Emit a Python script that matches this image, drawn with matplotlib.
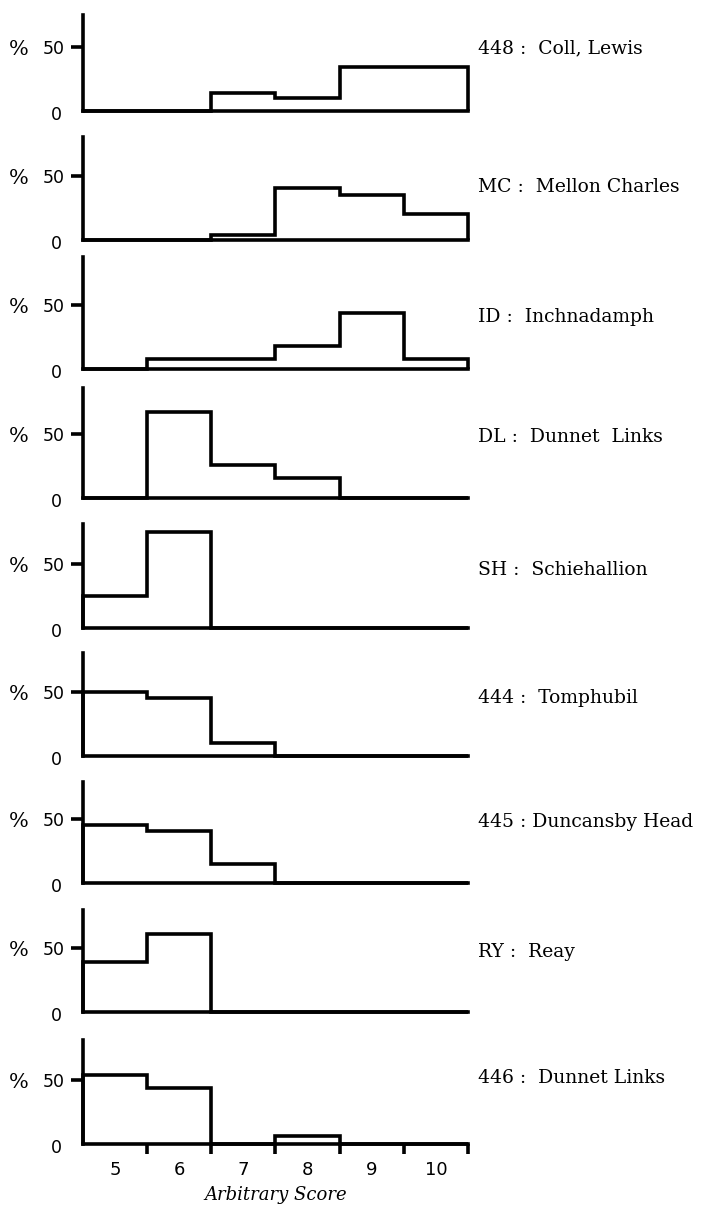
import numpy as np
import matplotlib
matplotlib.use('Agg')
import matplotlib.pyplot as plt
from matplotlib.transforms import blended_transform_factory

# score classes along the bottom
scores = [5, 6, 7, 8, 9, 10]

# site labels, top to bottom
sites = ["448 :  Coll, Lewis", "MC :  Mellon Charles", "ID :  Inchnadamph",
         "DL :  Dunnet  Links", "SH :  Schiehallion", "444 :  Tomphubil",
         "445 : Duncansby Head", "RY :  Reay", "446 :  Dunnet Links"]

# percent in each score class
coll_lewis = [0, 0, 14, 10, 34, 34]
mellon_charles = [0, 0, 4, 41, 35, 20]
inchnadamph = [0, 8, 8, 18, 44, 8]
dunnet_dl = [0, 67, 26, 16, 0, 0]
schiehallion = [25, 75, 0, 0, 0, 0]
tomphubil = [50, 45, 10, 0, 0, 0]
duncansby = [45, 41, 15, 0, 0, 0]
reay = [39, 61, 0, 0, 0, 0]
dunnet_446 = [54, 44, 0, 6, 0, 0]

series = [coll_lewis, mellon_charles, inchnadamph, dunnet_dl, schiehallion,
          tomphubil, duncansby, reay, dunnet_446]

# layout in pixels: zero line and top of the y spine for each panel
W, H = 703, 1207
zero_px = [111, 240, 369, 498, 628, 756, 883, 1012, 1144]
top_px = [15, 137, 257, 388, 524, 653, 782, 910, 1040]
label_px = [48, 187, 317, 437, 570, 698, 822, 952, 1078]
px_per_50 = 64.0
left_px, right_px = 83, 468

edges = np.append(np.array(scores) - 0.5, scores[-1] + 0.5)

fig = plt.figure(figsize=(W / 100, H / 100), dpi=100)
lw = 2.6

for i, vals in enumerate(series):
    b = zero_px[i]
    t = top_px[i]
    ax = fig.add_axes([left_px / W, 1 - b / H, (right_px - left_px) / W, (b - t) / H])
    ymax = (b - t) / px_per_50 * 50
    ax.set_xlim(edges[0], edges[-1])
    ax.set_ylim(0, ymax)
    ax.set_facecolor('none')

    ax.stairs(vals, edges, baseline=0, color='black', linewidth=lw, clip_on=False)

    for s in ['top', 'right']:
        ax.spines[s].set_visible(False)
    for s in ['left', 'bottom']:
        ax.spines[s].set_linewidth(lw)
        ax.spines[s].set_capstyle('projecting')

    ax.set_yticks([50])
    ax.set_yticklabels(['50'], fontsize=12.5, family='DejaVu Sans')
    ax.tick_params(axis='y', direction='out', length=9, width=2.6, pad=4)

    tr = blended_transform_factory(fig.transFigure, ax.transData)
    ax.text(19 / W, 48, '%', transform=tr, ha='center', va='center',
            fontsize=15, family='DejaVu Serif')
    ax.text(62 / W, -3, '0', transform=tr, ha='right', va='center',
            fontsize=12.5, family='DejaVu Sans')
    ly = (b - label_px[i]) / px_per_50 * 50
    ax.text(478 / W, ly, sites[i], transform=tr, ha='left', va='center',
            fontsize=13.5, family='DejaVu Serif')

    if i == len(series) - 1:
        ax.set_xticks(edges[1:])
        ax.set_xticklabels([])
        ax.set_xticks(scores, minor=True)
        ax.set_xticklabels([str(s) for s in scores], minor=True,
                           fontsize=13, family='DejaVu Sans')
        ax.tick_params(axis='x', which='major', direction='out', length=7, width=2.6)
        ax.tick_params(axis='x', which='minor', length=0, pad=12)
        ax.set_xlabel('Arbitrary Score', fontsize=13, family='DejaVu Serif',
                      style='italic', labelpad=5)
    else:
        ax.set_xticks([])

fig.savefig('out.png', dpi=100)
